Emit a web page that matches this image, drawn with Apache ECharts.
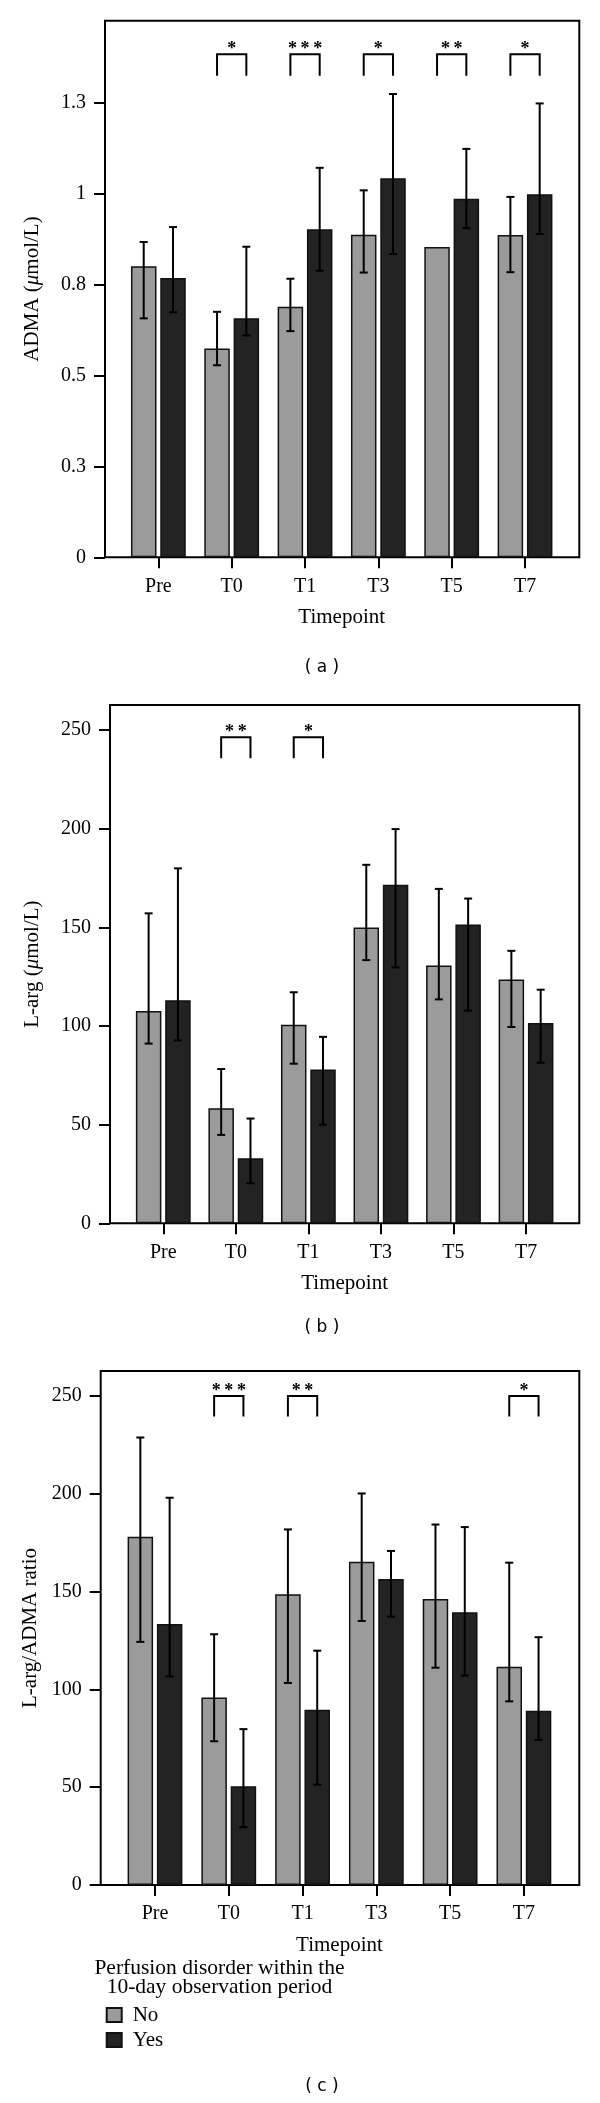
<!DOCTYPE html>
<html><head><meta charset="utf-8">
<script src="https://cdn.jsdelivr.net/npm/echarts@6/dist/echarts.min.js"></script>
<style>html,body{margin:0;padding:0;background:#fff}#c{width:600px;height:2103px}</style>
</head><body><div id="c"></div>
<script>
// ---------- data ----------
const categories = ['Pre', 'T0', 'T1', 'T3', 'T5', 'T7'];
const seriesNames = ['No', 'Yes'];

// (a) ADMA (µmol/L)
const admaNo    = [0.800, 0.574, 0.689, 0.887, 0.853, 0.886];
const admaNoHi  = [0.867, 0.675, 0.766, 1.009, null, 0.991];
const admaNoLo  = [0.657, 0.528, 0.622, 0.783, null, 0.784];
const admaYes   = [0.768, 0.657, 0.902, 1.042, 0.986, 0.998];
const admaYesHi = [0.908, 0.854, 1.071, 1.274, 1.123, 1.248];
const admaYesLo = [0.674, 0.610, 0.788, 0.834, 0.905, 0.889];
const admaSig   = ['', '*', '***', '*', '**', '*'];
const admaTickValues = [0, 0.25, 0.5, 0.75, 1, 1.25];
const admaTickLabels = ['0', '0.3', '0.5', '0.8', '1', '1.3'];

// (b) L-arg (µmol/L)
const largNo    = [107.6, 58.3, 100.6, 149.9, 130.7, 123.6];
const largNoHi  = [157.1, 78.2, 117.1, 181.7, 169.5, 138.1];
const largNoLo  = [91.1, 44.8, 80.9, 133.4, 113.5, 99.5];
const largYes   = [113.0, 33.0, 78.0, 171.6, 151.4, 101.5];
const largYesHi = [179.9, 53.1, 94.5, 199.8, 164.6, 118.4];
const largYesLo = [92.7, 20.3, 50.0, 129.7, 107.8, 81.4];
const largSig   = ['', '**', '*', '', '', ''];
const largTickValues = [0, 50, 100, 150, 200, 250];
const largTickLabels = ['0', '50', '100', '150', '200', '250'];

// (c) L-arg/ADMA ratio
const ratioNo    = [178.0, 95.9, 148.7, 165.3, 146.2, 111.6];
const ratioNoHi  = [228.8, 128.2, 181.8, 200.2, 184.3, 164.8];
const ratioNoLo  = [124.3, 73.5, 103.3, 135.0, 111.1, 93.9];
const ratioYes   = [133.5, 50.5, 89.6, 156.4, 139.4, 89.1];
const ratioYesHi = [198.0, 79.7, 119.8, 170.8, 183.0, 126.7];
const ratioYesLo = [106.6, 29.6, 51.3, 137.2, 107.1, 74.2];
const ratioSig   = ['', '***', '**', '', '', '*'];
const ratioTickValues = [0, 50, 100, 150, 200, 250];
const ratioTickLabels = ['0', '50', '100', '150', '200', '250'];

// ---------- layout / style ----------
const SERIF = 'Liberation Serif';
const BAR_W = 25.5, BAR_GAP = 3.8;
const OFF = (BAR_W + BAR_GAP) / 2;
const COLOR_NO = '#9b9b9b', COLOR_YES = '#232323';

const panels = [
  { no: admaNo, noHi: admaNoHi, noLo: admaNoLo, yes: admaYes, yesHi: admaYesHi, yesLo: admaYesLo,
    sig: admaSig, tickValues: admaTickValues, tickLabels: admaTickLabels,
    yName: 'ADMA ({i|μ}mol/L)', nameGap: 62, max: 1.4755, bTop: 1.383, bLeg: 1.324,
    frameLeft: 105, dataLeft: 121.7, dataRight: 38.3, top: 20.7, height: 536.6, label: '( a )', labelY: 668 },
  { no: largNo, noHi: largNoHi, noLo: largNoLo, yes: largYes, yesHi: largYesHi, yesLo: largYesLo,
    sig: largSig, tickValues: largTickValues, tickLabels: largTickLabels,
    yName: 'L-arg ({i|μ}mol/L)', nameGap: 67, max: 262.7, bTop: 246.3, bLeg: 235.7,
    frameLeft: 110, dataLeft: 127, dataRight: 37.7, top: 705, height: 518.3, label: '( b )', labelY: 1328 },
  { no: ratioNo, noHi: ratioNoHi, noLo: ratioNoLo, yes: ratioYes, yesHi: ratioYesHi, yesLo: ratioYesLo,
    sig: ratioSig, tickValues: ratioTickValues, tickLabels: ratioTickLabels,
    yName: 'L-arg/ADMA ratio', nameGap: 55, max: 262.8, bTop: 250, bLeg: 239.5,
    frameLeft: 100.7, dataLeft: 118.1, dataRight: 39.2, top: 1371, height: 514, label: '( c )', labelY: 2087 }
];
const FRAME_RIGHT = 20.7;

function errRender(offset) {
  return function (params, api) {
    const i = api.value(0), hi = api.value(1), lo = api.value(2);
    if (isNaN(hi) || isNaN(lo)) return null;
    const a = api.coord([i, hi]), b = api.coord([i, lo]);
    const x = a[0] + offset, cap = 4;
    const st = { stroke: '#000', lineWidth: 2 };
    return { type: 'group', children: [
      { type: 'line', shape: { x1: x, y1: a[1], x2: x, y2: b[1] }, style: st },
      { type: 'line', shape: { x1: x - cap, y1: a[1], x2: x + cap, y2: a[1] }, style: st },
      { type: 'line', shape: { x1: x - cap, y1: b[1], x2: x + cap, y2: b[1] }, style: st }
    ]};
  };
}
function sigRender(p) {
  return function (params, api) {
    const i = api.value(0);
    const lbl = p.sig[i].split('').join('\u2009');
    const t = api.coord([i, p.bTop]), l = api.coord([i, p.bLeg]);
    const x1 = t[0] - OFF, x2 = t[0] + OFF;
    return { type: 'group', children: [
      { type: 'polyline', shape: { points: [[x1, l[1]], [x1, t[1]], [x2, t[1]], [x2, l[1]]] },
        style: { stroke: '#000', lineWidth: 2, fill: null } },
      { type: 'text', x: t[0], y: t[1] - 5, style: { text: lbl, font: 'bold 18px ' + SERIF, fill: '#000',
        align: 'center', verticalAlign: 'middle', textAlign: 'center', textVerticalAlign: 'middle' } }
    ]};
  };
}

const grid = [], xAxis = [], yAxis = [], series = [], graphic = [];
panels.forEach((p, k) => {
  const fi = 2 * k, di = 2 * k + 1;
  grid.push({ left: p.frameLeft, right: FRAME_RIGHT, top: p.top, height: p.height,
              show: true, borderColor: '#000', borderWidth: 2, backgroundColor: 'transparent' });
  grid.push({ left: p.dataLeft, right: p.dataRight, top: p.top, height: p.height });
  xAxis.push({ gridIndex: fi, type: 'value', show: false, min: 0, max: 1 });
  xAxis.push({ gridIndex: di, type: 'category', data: categories,
    axisLine: { show: false },
    axisTick: { show: true, alignWithLabel: true, length: 11, lineStyle: { color: '#000', width: 2 } },
    axisLabel: { margin: 19, fontFamily: SERIF, fontSize: 20, color: '#000' },
    name: 'Timepoint', nameLocation: 'middle', nameGap: 50,
    nameTextStyle: { fontFamily: SERIF, fontSize: 21, color: '#000' } });
  yAxis.push({ gridIndex: fi, type: 'value', min: 0, max: p.max,
    splitLine: { show: false }, axisLine: { show: false },
    axisTick: { show: true, length: 11, customValues: p.tickValues, lineStyle: { color: '#000', width: 2 } },
    axisLabel: { margin: 19, customValues: p.tickValues, fontFamily: SERIF, fontSize: 20, color: '#000',
      formatter: v => { const j = p.tickValues.findIndex(t => Math.abs(t - v) < 1e-9); return j >= 0 ? p.tickLabels[j] : ''; } },
    name: p.yName, nameLocation: 'middle', nameGap: p.nameGap, nameRotate: 90,
    nameTextStyle: { fontFamily: SERIF, fontSize: 21, color: '#000', rich: { i: { fontFamily: SERIF, fontSize: 21, fontStyle: 'italic', color: '#000' } } } });
  yAxis.push({ gridIndex: di, type: 'value', min: 0, max: p.max, show: false });

  series.push({ name: seriesNames[0], type: 'bar', xAxisIndex: di, yAxisIndex: di, data: p.no,
    barWidth: BAR_W, barGap: (BAR_GAP / BAR_W * 100) + '%',
    itemStyle: { color: COLOR_NO, borderColor: '#111', borderWidth: 1.5 } });
  series.push({ name: seriesNames[1], type: 'bar', xAxisIndex: di, yAxisIndex: di, data: p.yes,
    barWidth: BAR_W, barGap: (BAR_GAP / BAR_W * 100) + '%',
    itemStyle: { color: COLOR_YES, borderColor: '#111', borderWidth: 1.5 } });
  series.push({ name: 'errNo' + k, type: 'custom', xAxisIndex: di, yAxisIndex: di, z: 5,
    renderItem: errRender(-OFF), encode: { x: 0, y: [1, 2] },
    data: categories.map((c, i) => [i, p.noHi[i] == null ? NaN : p.noHi[i], p.noLo[i] == null ? NaN : p.noLo[i]]) });
  series.push({ name: 'errYes' + k, type: 'custom', xAxisIndex: di, yAxisIndex: di, z: 5,
    renderItem: errRender(OFF), encode: { x: 0, y: [1, 2] },
    data: categories.map((c, i) => [i, p.yesHi[i], p.yesLo[i]]) });
  series.push({ name: 'sig' + k, type: 'custom', xAxisIndex: di, yAxisIndex: di, z: 5,
    renderItem: sigRender(p), encode: { x: 0, y: 1 },
    data: categories.map((c, i) => [i, p.bTop]).filter(d => p.sig[d[0]] !== '') });

  graphic.push({ type: 'text', x: 322, y: p.labelY,
    style: { text: p.label, font: '17px DejaVu Sans', fill: '#000',
      align: 'center', verticalAlign: 'middle', textAlign: 'center', textVerticalAlign: 'middle' } });
});

graphic.push({ type: 'text', x: 219.5, y: 1959,
  style: { text: 'Perfusion disorder within the\n10-day observation period', font: '21.5px ' + SERIF, fill: '#000',
    lineHeight: 19, align: 'center', verticalAlign: 'top', textAlign: 'center', textVerticalAlign: 'top' } });

const chart = echarts.init(document.getElementById('c'), null, { renderer: 'canvas' });
chart.setOption({
  animation: false,
  backgroundColor: '#fff',
  grid, xAxis, yAxis, series, graphic,
  legend: { data: seriesNames, orient: 'vertical', left: 100.7, top: 1999.5, itemWidth: 15, itemHeight: 14,
    itemGap: 4, icon: 'rect', selectedMode: false,
    textStyle: { fontFamily: SERIF, fontSize: 21, color: '#000', padding: [0, 0, 0, 6] } }
});
</script></body></html>
